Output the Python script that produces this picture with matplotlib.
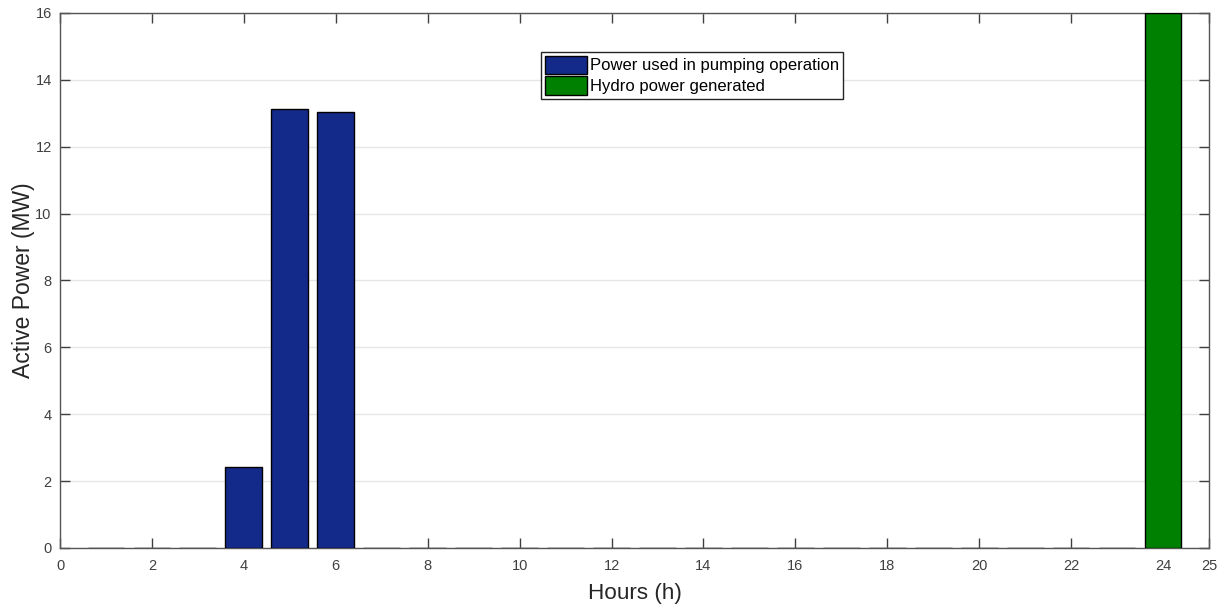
import numpy as np
import matplotlib.pyplot as plt
from matplotlib.patches import Patch

plt.rcParams['font.family'] = ['Liberation Sans', 'DejaVu Sans']

hours = list(range(1, 25))
pumping = [0, 0, 0, 2.42, 13.13, 13.05, 0, 0, 0, 0, 0, 0,
           0, 0, 0, 0, 0, 0, 0, 0, 0, 0, 0, 0]
hydro = [0, 0, 0, 0, 0, 0, 0, 0, 0, 0, 0, 0,
         0, 0, 0, 0, 0, 0, 0, 0, 0, 0, 0, 16]

blue = '#142a8a'
green = '#008000'
grey = '#404040'

fig = plt.figure(figsize=(12.27, 6.07), dpi=100)
ax = fig.add_axes([0.0489, 0.0972, 0.9364, 0.8814])

x = np.array(hours)
ax.bar(x, pumping, width=0.8, color=blue, edgecolor='black', linewidth=1, zorder=3)
hyd = np.array(hydro)
ax.bar(x[hyd > 0], hyd[hyd > 0], width=0.8, color=green, edgecolor='black',
       linewidth=1, zorder=3)

ax.set_xlim(0, 25)
ax.set_ylim(0, 16)
ax.set_xticks(list(range(0, 25, 2)) + [25])
ax.set_yticks(range(0, 17, 2))
ax.yaxis.grid(True, color='#e6e6e6', linewidth=1, zorder=0)
ax.set_axisbelow(True)

ax.tick_params(direction='in', top=True, right=True, length=7, width=1,
               colors=grey, labelsize=10.5, labelcolor=grey)
ax.tick_params(axis='x', pad=8)
ax.tick_params(axis='y', pad=6)
for s in ax.spines.values():
    s.set_color('#555555')
    s.set_linewidth(1)

ax.set_xlabel('Hours (h)', fontsize=16.2, color='#262626', labelpad=7)
ax.set_ylabel('Active Power (MW)', fontsize=16.5, color='#262626', labelpad=0)

handles = [Patch(facecolor=blue, edgecolor='black'),
           Patch(facecolor=green, edgecolor='black')]
leg = ax.legend(handles, ['Power used in pumping operation', 'Hydro power generated'],
                loc='upper left', bbox_to_anchor=(0.4186, 0.928), fontsize=12,
                frameon=True, fancybox=False, framealpha=1, edgecolor='#262626',
                handlelength=2.5, handleheight=1.3, handletextpad=0.2,
                labelspacing=0.15, borderpad=0.25, borderaxespad=0)
leg.get_frame().set_linewidth(1)

fig.savefig('out.png', dpi=100)
